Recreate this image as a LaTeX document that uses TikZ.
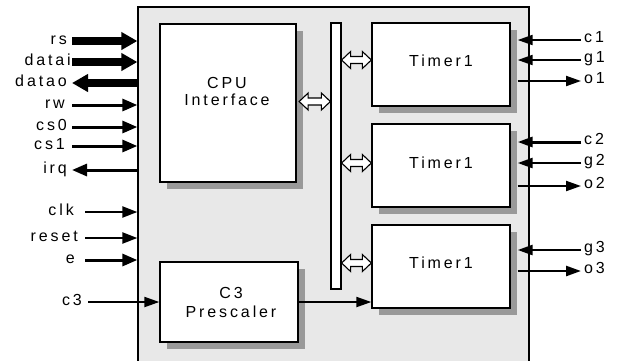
\documentclass[tikz,border=0pt]{standalone}
\usepackage{fontspec}
\setmainfont{Liberation Sans}[LetterSpace=18]
\usetikzlibrary{arrows.meta,shadows,calc}
\newcommand\dblarr[2]{\draw[dblst] (#1) -- ($(#1)+(9,-8.5)$) -- ($(#1)+(9,-3.5)$) -- ($(#2)+(-9,-3.5)$) -- ($(#2)+(-9,-8.5)$) -- (#2) -- ($(#2)+(-9,8.5)$) -- ($(#2)+(-9,3.5)$) -- ($(#1)+(9,3.5)$) -- ($(#1)+(9,8.5)$) -- cycle;}
\begin{document}
\begin{tikzpicture}[x=1pt,y=-1pt,
  font=\fontsize{16}{17}\selectfont,
  blk/.style={draw=black,line width=1.3pt,fill=white,inner sep=0pt,
    drop shadow={shadow xshift=7pt,shadow yshift=-7pt,opacity=1,fill=black!40}},
  txt/.style={inner sep=0pt,align=center},
  lbl/.style={inner sep=0pt},
  dblst/.style={draw=black,line width=1.1pt,fill=white,line join=miter},
  sigbig/.style={line width=8pt,-{Triangle[length=16pt,width=17pt]}},
  sigmed/.style={line width=3pt,-{Triangle[length=15pt,width=12pt]}},
  sigsm/.style={line width=2.2pt,-{Triangle[length=15pt,width=11pt]}},
  sigr/.style={line width=2pt,-{Triangle[length=15pt,width=10pt]}}
]
\useasboundingbox (0,0) rectangle (617,360);
\fill[white] (0,0) rectangle (617,360);

% chip outline
\node[draw=black,line width=1.3pt,fill=black!9,inner sep=0pt,
  minimum width=391pt,minimum height=368pt] (chip) at (333.5,191) {};

% blocks
\node[blk,minimum width=136pt,minimum height=158pt] (cpu) at (228,103) {};
\node[blk,minimum width=138pt,minimum height=80pt] (pre) at (229,302) {};
\node[blk,minimum width=138pt,minimum height=83pt] (T1) at (441,64.5) {};
\node[blk,minimum width=138pt,minimum height=83pt] (T2) at (441,165.5) {};
\node[blk,minimum width=138pt,minimum height=83pt] (T3) at (441,266.5) {};
\node[draw=black,line width=1.2pt,fill=white,inner sep=0pt,
  minimum width=10pt,minimum height=266pt] (bus) at (336,156) {};

% block texts
\node[txt] (cputxt) at (227,91) {CPU\\Interface};
\node[txt] (pretxt) at (231,302) {C3\\[2pt]Prescaler};
\node[txt] (t1txt) at ($(T1.center)+(0,-3.5)$) {Timer1};
\node[txt] (t2txt) at ($(T2.center)+(0,-3)$) {Timer1};
\node[txt] (t3txt) at ($(T3.center)+(0,-4)$) {Timer1};

% bus double arrows
\coordinate (a0l) at ($(cpu.east)+(2.5,-1.5)$);
\coordinate (a0r) at (a0l -| bus.west);
\coordinate (a1r) at ($(T1.west)+(0,-4.5)$);
\coordinate (a1l) at (a1r -| bus.east);
\coordinate (a2r) at ($(T2.west)+(0,-2.5)$);
\coordinate (a2l) at (a2r -| bus.east);
\coordinate (a3r) at ($(T3.west)+(0,-3.5)$);
\coordinate (a3l) at (a3r -| bus.east);
\dblarr{a0l}{a0r}
\dblarr{a1l}{a1r}
\dblarr{a2l}{a2r}
\dblarr{a3l}{a3r}

% left signals
\coordinate (rs) at (72,41);
\coordinate (datai) at (72,62);
\coordinate (datao) at (72,83);
\coordinate (rw) at (72,105);
\coordinate (cs0) at (72,127);
\coordinate (cs1) at (72,146);
\coordinate (irq) at (72,170);
\coordinate (clk) at (85,212);
\coordinate (reset) at (85,238);
\coordinate (e) at (85,260);
\coordinate (c3) at (88,302);

\node[lbl,anchor=mid east] (lrs) at (67,41.5) {rs};
\node[lbl,anchor=mid east] (ldatai) at (71,62.5) {datai};
\node[lbl,anchor=mid east] (ldatao) at (67,84) {datao};
\node[lbl,anchor=mid east] (lrw) at (65,105.5) {rw};
\node[lbl,anchor=mid east] (lcs0) at (67,127.5) {cs0};
\node[lbl,anchor=mid east] (lcs1) at (65,146.5) {cs1};
\node[lbl,anchor=mid east] (lirq) at (67,170.5) {irq};
\node[lbl,anchor=mid east] (lclk) at (74,213) {clk};
\node[lbl,anchor=mid east] (lreset) at (78,238.5) {reset};
\node[lbl,anchor=mid east] (le) at (75,261) {e};
\node[lbl,anchor=mid east] (lc3) at (82,303) {c3};

\draw[sigbig] (rs) -- (rs -| chip.west);
\draw[sigbig] (datai) -- (datai -| chip.west);
\draw[sigbig] (datao -| chip.west) -- (datao);
\draw[sigmed] (rw) -- (rw -| chip.west);
\draw[sigmed] (cs0) -- (cs0 -| chip.west);
\draw[sigmed] (cs1) -- (cs1 -| chip.west);
\draw[sigmed] (irq -| chip.west) -- (irq);
\draw[sigsm] (clk) -- (clk -| chip.west);
\draw[sigsm] (reset) -- (reset -| chip.west);
\draw[sigmed] (e) -- (e -| chip.west);
\draw[sigr] (c3) -- (c3 -| pre.west);
\draw[sigr] (pre.east) -- (pre.east -| T3.west);

% right signals
\coordinate (c1) at (581,40);
\coordinate (g1) at (581,60);
\coordinate (o1) at (581,81);
\coordinate (c2) at (581,142);
\coordinate (g2) at (581,163);
\coordinate (o2) at (581,186);
\coordinate (g3) at (581,250);
\coordinate (o3) at (581,271);

\node[lbl,anchor=mid west] (lc1) at (584,40) {c1};
\node[lbl,anchor=mid west] (lg1) at (584,60) {g1};
\node[lbl,anchor=mid west] (lo1) at (584,81) {o1};
\node[lbl,anchor=mid west] (lc2) at (584,142) {c2};
\node[lbl,anchor=mid west] (lg2) at (584,163) {g2};
\node[lbl,anchor=mid west] (lo2) at (584,186) {o2};
\node[lbl,anchor=mid west] (lg3) at (584,250) {g3};
\node[lbl,anchor=mid west] (lo3) at (584,271) {o3};

\draw[sigr] (c1) -- ($(c1 -| T1.east)+(7,0)$);
\draw[sigr] (g1) -- ($(g1 -| T1.east)+(7,0)$);
\draw[sigr] ($(o1 -| T1.east)+(7,0)$) -- (o1);
\draw[sigr,line width=3pt] (c2) -- ($(c2 -| T2.east)+(7,0)$);
\draw[sigr,line width=2.5pt] (g2) -- ($(g2 -| T2.east)+(7,0)$);
\draw[sigr] ($(o2 -| T2.east)+(7,0)$) -- (o2);
\draw[sigr,line width=2.5pt] (g3) -- ($(g3 -| T3.east)+(7,0)$);
\draw[sigr,line width=2.5pt] ($(o3 -| T3.east)+(7,0)$) -- (o3);
\end{tikzpicture}
\end{document}
